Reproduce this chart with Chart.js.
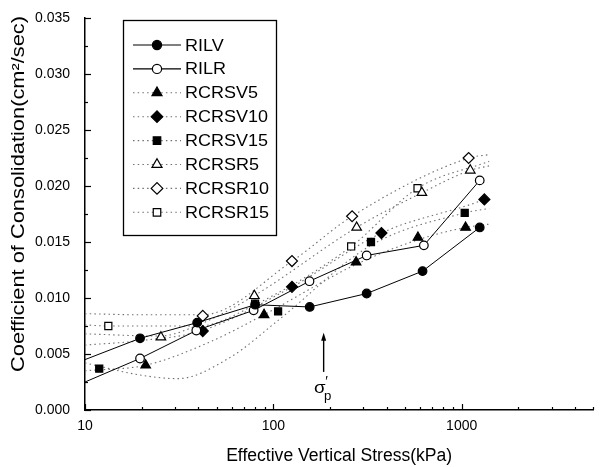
<!DOCTYPE html>
<html><head><meta charset="utf-8">
<script src="https://cdn.jsdelivr.net/npm/chart.js@4.4.1/dist/chart.umd.min.js"></script>
<style>html,body{margin:0;padding:0;background:#fff}</style>
</head><body>
<canvas id="c" width="600" height="467"></canvas>
<script>
// ---- data ----
const xTickLabels = [10, 100, 1000];
const yTickLabels = ['0.000','0.005','0.010','0.015','0.020','0.025','0.030','0.035'];
const seriesNames = ['RILV','RILR','RCRSV5','RCRSV10','RCRSV15','RCRSR5','RCRSR10','RCRSR15'];
const xTitle = 'Effective Vertical Stress(kPa)';
const yTitle = 'Coefficient of Consolidation(cm\u00B2/sec)';

const rilvX = [10, 19.6, 39.4, 80, 156, 313, 620, 1247];
const rilvY = [0.0045, 0.0064, 0.0078, 0.0094, 0.0092, 0.0104, 0.0124, 0.0163];
const rilrX = [10, 19.6, 39, 78.6, 155.6, 313, 630, 1247];
const rilrY = [0.0025, 0.0046, 0.0071, 0.0089, 0.0115, 0.0138, 0.0147, 0.0205];

const v5X = [21, 89.3, 275, 586, 1049];
const v5Y = [0.0040, 0.0085, 0.0132, 0.0154, 0.0163];
const v10X = [42.2, 125.6, 375, 1320];
const v10Y = [0.00705, 0.0110, 0.0158, 0.0188];
const v15X = [11.9, 106, 330, 1038];
const v15Y = [0.0037, 0.0088, 0.0150, 0.0176];
const r5X = [25.3, 79.3, 277, 615, 1111];
const r5Y = [0.0065, 0.0102, 0.0163, 0.0194, 0.0214];
const r10X = [42.2, 125.6, 262, 1089];
const r10Y = [0.0084, 0.0133, 0.0173, 0.0225];
const r15X = [13.3, 80, 259, 583];
const r15Y = [0.0075, 0.0095, 0.0146, 0.0198];

// dotted fitted curves
const fitV5X = [10, 21, 45, 89, 275, 586, 1049, 1400];
const fitV5Y = [0.0035, 0.0040, 0.0060, 0.0085, 0.0130, 0.0152, 0.0163, 0.0166];
const fitV10X = [10, 20, 42, 126, 375, 1320, 1400];
const fitV10Y = [0.0058, 0.0062, 0.0071, 0.0110, 0.0158, 0.0188, 0.0190];
const fitV15X = [10, 20, 31, 59, 106, 330, 1038, 1400];
const fitV15Y = [0.0042, 0.0031, 0.0028, 0.0047, 0.0080, 0.0147, 0.0176, 0.0180];
const fitR5X = [10, 25, 40, 79, 277, 615, 1111, 1400];
const fitR5Y = [0.0068, 0.0066, 0.0076, 0.0102, 0.0163, 0.0194, 0.0214, 0.0218];
const fitR10X = [10, 20, 42, 126, 262, 1089, 1400];
const fitR10Y = [0.0086, 0.0085, 0.0085, 0.0133, 0.0173, 0.0225, 0.0228];
const fitR15X = [10, 13.3, 40, 80, 259, 583, 1400];
const fitR15Y = [0.0076, 0.0075, 0.0075, 0.0094, 0.0146, 0.0198, 0.0222];

const sigmaP = 185;          // preconsolidation stress marker (kPa)
const sigmaArrowY = [0.0034, 0.0069];

// ---- helpers ----
const pts = (xs, ys) => xs.map((x, i) => ({x, y: ys[i]}));
const FONT = "'Liberation Sans', Arial, sans-serif";
const DOT = '#707070';

const styles = {
  RILV:    {pointStyle:'circle',   fill:'#000', line:'solid'},
  RILR:    {pointStyle:'circle',   fill:'#fff', line:'solid'},
  RCRSV5:  {pointStyle:'triangle', fill:'#000', line:'dot'},
  RCRSV10: {pointStyle:'rectRot',  fill:'#000', line:'dot'},
  RCRSV15: {pointStyle:'rect',     fill:'#000', line:'dot'},
  RCRSR5:  {pointStyle:'triangle', fill:'#fff', line:'dot'},
  RCRSR10: {pointStyle:'rectRot',  fill:'#fff', line:'dot'},
  RCRSR15: {pointStyle:'rect',     fill:'#fff', line:'dot'}
};
const radiusFor = s => ({circle: 4.3, triangle: 5.5, rectRot: 5.5, rect: 5})[s];

function markerSet(name, xs, ys) {
  const st = styles[name];
  return {
    label: name, data: pts(xs, ys), showLine: st.line === 'solid',
    borderColor: '#000', borderWidth: 1,
    pointStyle: st.pointStyle, pointBackgroundColor: st.fill, pointBorderColor: '#000',
    pointBorderWidth: 1.2,
    pointRadius: ctx => (ctx.raw && ctx.raw.x <= 10) ? 0 : radiusFor(st.pointStyle),
    pointHoverRadius: 0, order: 1, clip: false
  };
}
function fitSet(name, xs, ys) {
  return {
    label: name + ' fit', data: pts(xs, ys), showLine: true, pointRadius: 0,
    borderColor: DOT, borderWidth: 1.1, borderDash: [1.5, 3.2],
    cubicInterpolationMode: 'monotone', order: 5
  };
}

const datasets = [
  markerSet('RILV', rilvX, rilvY),
  markerSet('RILR', rilrX, rilrY),
  markerSet('RCRSV5', v5X, v5Y),
  markerSet('RCRSV10', v10X, v10Y),
  markerSet('RCRSV15', v15X, v15Y),
  markerSet('RCRSR5', r5X, r5Y),
  markerSet('RCRSR10', r10X, r10Y),
  markerSet('RCRSR15', r15X, r15Y),
  fitSet('RCRSV5', fitV5X, fitV5Y),
  fitSet('RCRSV10', fitV10X, fitV10Y),
  fitSet('RCRSV15', fitV15X, fitV15Y),
  fitSet('RCRSR5', fitR5X, fitR5Y),
  fitSet('RCRSR10', fitR10X, fitR10Y),
  fitSet('RCRSR15', fitR15X, fitR15Y)
];

function stretchedText(ctx, text, x, y, size, sx, rot) {
  ctx.save();
  ctx.translate(x, y);
  if (rot) ctx.rotate(rot);
  ctx.scale(sx, 1);
  ctx.font = size + 'px ' + FONT;
  ctx.fillText(text, 0, 0);
  ctx.restore();
}

const tickPlugin = {
  id: 'ticksEtc',
  afterDatasetsDraw(chart) {
    const {ctx, chartArea: a, scales: {x, y}} = chart;
    ctx.save();
    ctx.strokeStyle = '#000'; ctx.lineWidth = 1.2;
    for (let d = 10; d <= 1000; d *= 10) {
      for (let m = 1; m <= 9; m++) {
        const v = d * m; if (v > x.max) break;
        const px = Math.round(x.getPixelForValue(v)) + 0.5;
        const len = m === 1 ? 6 : 3;
        ctx.beginPath(); ctx.moveTo(px, a.bottom); ctx.lineTo(px, a.bottom - len); ctx.stroke();
      }
    }
    for (let i = 0; i <= 14; i++) {
      const v = i * 0.0025;
      const py = Math.round(y.getPixelForValue(v)) + 0.5;
      const len = i % 2 === 0 ? 6 : 3;
      ctx.beginPath(); ctx.moveTo(a.left, py); ctx.lineTo(a.left + len, py); ctx.stroke();
    }
    // sigma'p arrow
    const sx = x.getPixelForValue(sigmaP);
    const y0 = y.getPixelForValue(sigmaArrowY[0]), y1 = y.getPixelForValue(sigmaArrowY[1]);
    ctx.lineWidth = 1.4;
    ctx.beginPath(); ctx.moveTo(sx, y0); ctx.lineTo(sx, y1 + 4); ctx.stroke();
    ctx.fillStyle = '#000';
    ctx.beginPath(); ctx.moveTo(sx, y1); ctx.lineTo(sx - 2.5, y1 + 8); ctx.lineTo(sx + 2.5, y1 + 8); ctx.closePath(); ctx.fill();
    ctx.textAlign = 'center'; ctx.textBaseline = 'middle';
    stretchedText(ctx, '\u03C3', sx - 4, y0 + 16, 17, 1.1);
    stretchedText(ctx, '\u2032', sx + 3, y0 + 10, 14, 1);
    stretchedText(ctx, 'p', sx + 4, y0 + 25, 12, 1.1);
    ctx.restore();
  }
};

const textPlugin = {
  id: 'boxLegendTitles',
  afterDraw(chart) {
    const {ctx, chartArea: a} = chart;
    ctx.save();
    ctx.fillStyle = '#000';
    ctx.textAlign = 'center'; ctx.textBaseline = 'middle';
    ctx.font = '18px ' + FONT;
    const wx = ctx.measureText(xTitle).width;
    stretchedText(ctx, xTitle, (a.left + a.right) / 2, 456, 18, 226 / wx);
    const wy = ctx.measureText(yTitle).width;
    stretchedText(ctx, yTitle, 19, 194, 18, 356 / wy, -Math.PI / 2);

    // legend box
    const bx = 123, by = 20, bw = 153, bh = 215;
    ctx.fillStyle = '#fff'; ctx.fillRect(bx, by, bw, bh);
    ctx.strokeStyle = '#000'; ctx.lineWidth = 1.3;
    ctx.strokeRect(bx + 0.5, by + 0.5, bw, bh);
    seriesNames.forEach((name, i) => {
      const st = styles[name];
      const cy = 45 + i * 23.9;
      ctx.strokeStyle = st.line === 'solid' ? '#000' : DOT;
      ctx.lineWidth = 1.1;
      ctx.setLineDash(st.line === 'solid' ? [] : [1.5, 3.2]);
      ctx.beginPath(); ctx.moveTo(133, cy); ctx.lineTo(181, cy); ctx.stroke();
      ctx.setLineDash([]);
      ctx.fillStyle = st.fill; ctx.strokeStyle = '#000'; ctx.lineWidth = 1.2;
      Chart.helpers.drawPoint(ctx, {pointStyle: st.pointStyle, radius: radiusFor(st.pointStyle) + 0.3, rotation: 0, borderWidth: 1.2}, 157, cy);
      ctx.fillStyle = '#000';
      ctx.textAlign = 'left'; ctx.textBaseline = 'middle';
      stretchedText(ctx, name, 185, cy + 1, 16.5, 1.09);
    });
    ctx.restore();
  }
};

new Chart(document.getElementById('c'), {
  type: 'scatter',
  data: {datasets},
  options: {
    responsive: false, animation: false, devicePixelRatio: 1,
    layout: {padding: {top: 18, right: 0, bottom: 0, left: 0}},
    plugins: {legend: {display: false}, tooltip: {enabled: false}},
    scales: {
      x: {
        type: 'logarithmic', min: 10, max: 5000,
        afterBuildTicks: s => { s.ticks = xTickLabels.map(v => ({value: v})); },
        afterFit: s => { s.height = 57; },
        ticks: {color: '#000', font: {family: FONT, size: 14}, padding: 0, maxRotation: 0,
                callback: v => String(v)},
        grid: {display: false},
        border: {display: true, color: '#000', width: 1.5},
        title: {display: false}
      },
      y: {
        min: 0, max: 0.035,
        afterBuildTicks: s => { s.ticks = yTickLabels.map(t => ({value: parseFloat(t)})); },
        afterFit: s => { s.width = 85; },
        ticks: {color: '#000', font: {family: FONT, size: 14}, padding: 7,
                callback: (v, i) => yTickLabels[i]},
        grid: {display: false},
        border: {display: true, color: '#000', width: 1.5},
        title: {display: false}
      }
    }
  },
  plugins: [tickPlugin, textPlugin]
});
</script>
</body></html>
